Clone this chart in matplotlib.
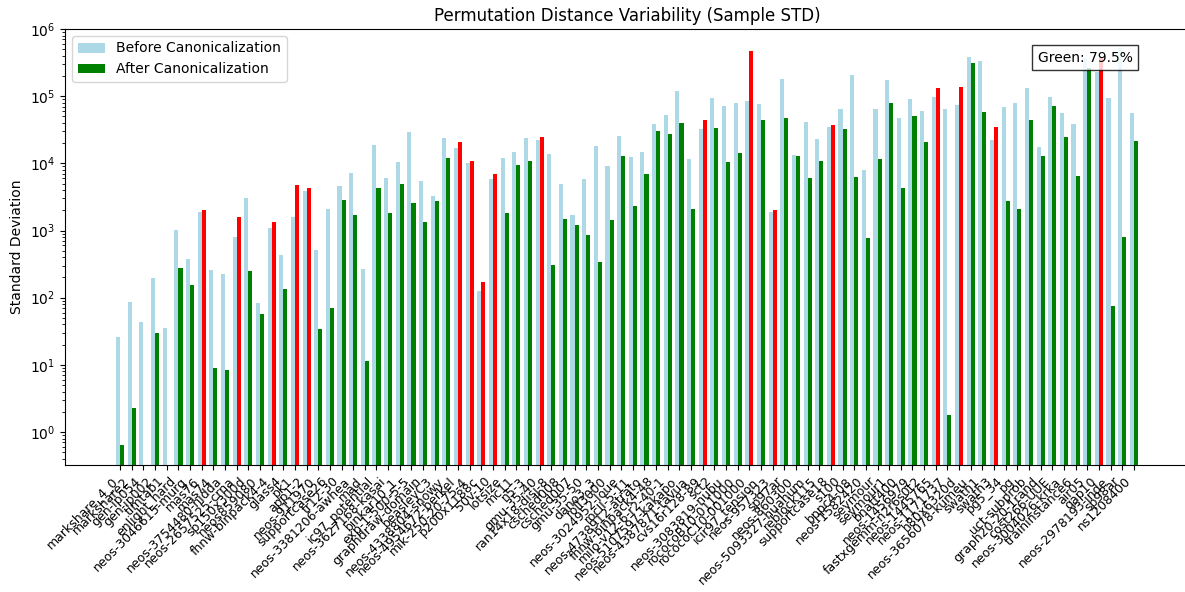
import numpy as np
import matplotlib.pyplot as plt

instances = [
    "markshare_4_0", "markshare2", "gen-ip054", "gen-ip002", "timtab1",
    "enlight_hard", "neos-3046615-murg", "mas76", "mas74", "neos-3754480-nidda",
    "neos-2657525-crna", "sp150x300d", "neos859080", "fhnw-binpack4-4", "glass4",
    "pk1", "app1-2", "neos-911970", "supportcase26", "tr12-30",
    "neos-3381206-awhea", "mad", "ic97_potential", "neos-3627168-kasai", "binkar10_1",
    "exp-1-500-5-5", "graphdraw-domain", "beasleyC3", "neos-4338804-snowy", "neos-4954672-berkel",
    "mik-250-20-75-4", "p200x1188c", "50v-10", "lotsize", "mc11",
    "n5-3", "gmu-35-40", "ran14x18-disj-8", "csched008", "csched007",
    "gmu-35-50", "dano3_3", "roll3000", "neos-3024952-loue", "rocII-5-11",
    "neos-4738912-atrato", "fhnw-binpack4-48", "milo-v12-6-r2-40-1", "neos-5107597-kakapo", "neos-4387871-tavua",
    "cvs16r128-89", "sct2", "neos-3083819-nubu", "rococoB10-011000", "rococoC10-001000",
    "icir97_tension", "neos-957323", "sp97ar", "neos-860300", "neos-5093327-huahum",
    "reblock115", "supportcase18", "s100", "bppc4-08", "neos-1582420",
    "seymour", "seymour1", "bnatt400", "neos-1456979", "fastxgemm-n2r6s0t2",
    "neos-1445765", "neos-1171737", "h80x6320d", "neos-3656078-kumeu", "swath1",
    "swath3", "pg5_34", "pg", "uct-subprob", "graph20-20-1rand",
    "cost266-UUE", "neos-3004026-krka", "traininstance6", "air05", "qap10",
    "neos-2978193-inde", "sp98ar", "ns1208400",
]

# sample std of permutation distances before canonicalization
std_before = [
    26, 86, 43, 199, 35, 1020, 373, 1900, 256, 228,
    805, 3000, 83, 1100, 428, 1600, 3820, 515, 2110, 4540,
    7090, 271, 18800, 5970, 10500, 29700, 5380, 3220, 24200, 16900,
    10000, 127, 5770, 12000, 14900, 24200, 22000, 14000, 4860, 1680,
    5770, 18100, 9020, 25900, 12400, 14700, 39100, 51600, 119000, 11600,
    33000, 93300, 70900, 78700, 84200, 76000, 1860, 180000, 13300, 40900,
    23400, 35000, 65500, 206000, 7870, 65500, 173000, 48100, 90200, 59700,
    96600, 65500, 73400, 386000, 336000, 22600, 68500, 78700, 132000, 17700,
    96600, 55700, 38200, 369000, 231000, 93300, 520000, 55700,
]

# sample std after canonicalization
std_after = [
    0.65, 2.3, 0, 29.7, 0, 274, 156, 2040, 9.1, 8.5,
    1600, 247, 57, 1350, 136, 4700, 4240, 34, 71, 2810,
    1710, 11.6, 4240, 1800, 4860, 2530, 1350, 2710, 12200, 21100,
    11000, 169, 6930, 1840, 9430, 11000, 25000, 308, 1460, 1190,
    863, 336, 1450, 12900, 2280, 6930, 30800, 27700, 40500, 2060,
    44900, 34100, 10500, 14500, 465000, 44900, 1990, 47000, 12900, 6040,
    10800, 36600, 33000, 6180, 778, 11600, 78700, 4240, 50300, 21100,
    132000, 1.79, 138000, 307000, 57700, 35300, 2710, 2060, 43900, 13000,
    70900, 25000, 6470, 265000, 366000, 74, 805, 21800,
]

assert len(instances) == len(std_before) == len(std_after)

x = np.arange(len(instances))
width = 0.35

# green where canonicalization reduced the spread, red otherwise
after_colors = ['green' if a < b else 'red' for a, b in zip(std_after, std_before)]
green_pct = 100 * sum(c == 'green' for c in after_colors) / len(after_colors)

fig = plt.figure(figsize=(11.85, 5.92), dpi=100)
# right edge of the axes sits just past the canvas
ax = fig.add_axes([65 / 1185, 127 / 592, 1124 / 1185, 436 / 592])

ax.bar(x - width / 2, std_before, width, color='lightblue', label='Before Canonicalization')
ax.bar(x + width / 2, std_after, width, color=after_colors, label='After Canonicalization')

ax.set_yscale('log')
ax.set_ylim(0.323, 1e6)
ax.set_xticks(x)
ax.set_xticklabels(instances, rotation=45, ha='right', fontsize=9)
ax.set_ylabel('Standard Deviation')
ax.set_title('Permutation Distance Variability (Sample STD)')
ax.legend(loc='upper left')

ax.text(0.95, 0.95, f'Green: {green_pct:.1f}%', transform=ax.transAxes,
        ha='right', va='top', bbox=dict(facecolor='white', alpha=0.8))

fig.savefig('out.png', dpi=100)
